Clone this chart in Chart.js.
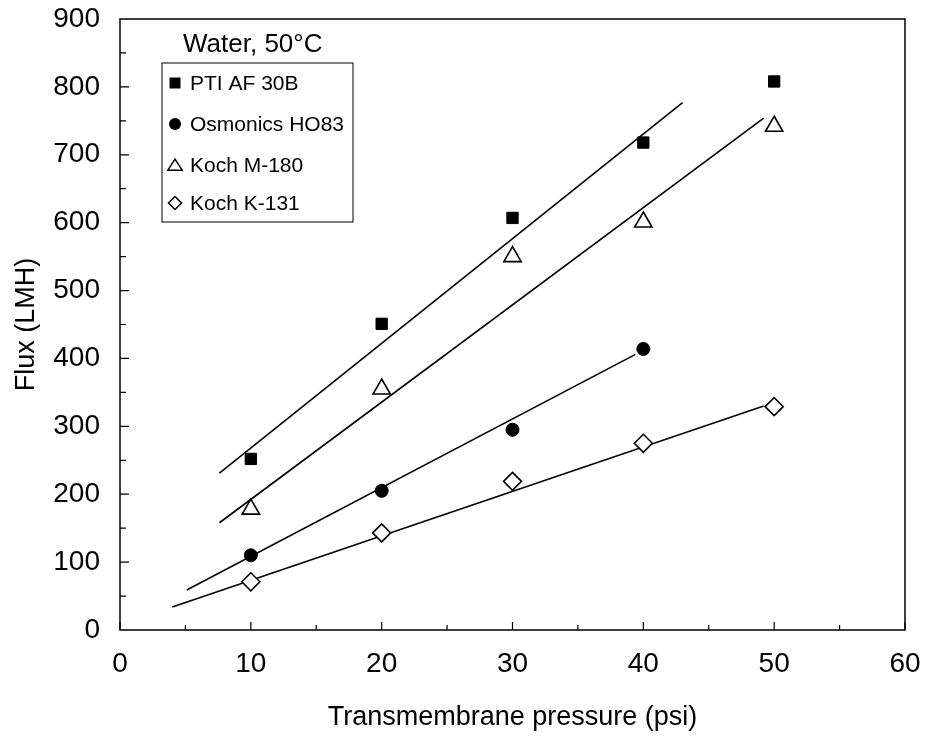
<!DOCTYPE html>
<html>
<head>
<meta charset="utf-8">
<script src="https://cdn.jsdelivr.net/npm/chart.js@4.4.1/dist/chart.umd.min.js"></script>
<style>
  html, body { margin: 0; padding: 0; background: #fff; }
  #wrap { width: 930px; height: 744px; position: relative; }
</style>
</head>
<body>
<div id="wrap"><canvas id="c" width="930" height="744"></canvas></div>
<script>
// ---- data ----
const pressure = [10, 20, 30, 40, 50];
const ptiFlux  = [252, 451, 607, 718, 808];
const osmFlux  = [110, 205, 295, 414];
const m180Flux = [178, 355, 550, 601, 742];
const k131Flux = [71, 143, 219, 275, 329];

// fitted trend lines (endpoints)
const ptiFitX  = [7.6, 43.0];  const ptiFitY  = [231, 777];
const m180FitX = [7.6, 49.2];  const m180FitY = [158, 754];
const osmFitX  = [5.1, 39.4];  const osmFitY  = [59, 406];
const k131FitX = [4.0, 49.2];  const k131FitY = [34, 330];

const seriesNames = ['PTI AF 30B', 'Osmonics HO83', 'Koch M-180', 'Koch K-131'];
const legendTitle = 'Water, 50\u00B0C';
const xTitle = 'Transmembrane pressure (psi)';
const yTitle = 'Flux (LMH)';
const xMajorTicks = [0, 10, 20, 30, 40, 50, 60];
const xMinorTicks = [5, 15, 25, 35, 45, 55];
const yMajorTicks = [100, 200, 300, 400, 500, 600, 700, 800];
const yMinorTicks = [50, 150, 250, 350, 450, 550, 650, 750, 850];

const FONT = '"Liberation Sans", Arial, sans-serif';
const pts = (xs, ys) => ys.map((v, i) => ({ x: xs[i], y: v }));

function fitLine(xs, ys) {
  return { type: 'line', data: pts(xs, ys), borderColor: '#000', borderWidth: 1.6,
           pointRadius: 0, showLine: true, fill: false, order: 2 };
}
function markers(ys, style, radius, filled) {
  return { type: 'scatter', data: pts(pressure, ys), pointStyle: style, pointRadius: radius,
           pointHoverRadius: radius,
           backgroundColor: filled ? '#000' : '#fff', borderColor: '#000',
           borderWidth: filled ? 1 : 1.6, order: 1 };
}

function drawSymbol(ctx, style, x, y, s) {
  ctx.beginPath();
  if (style === 'rect') {
    ctx.rect(x - s / 2, y - s / 2, s, s); ctx.fillStyle = '#000'; ctx.fill();
  } else if (style === 'circle') {
    ctx.arc(x, y, s / 2, 0, Math.PI * 2); ctx.fillStyle = '#000'; ctx.fill();
  } else if (style === 'triangle') {
    ctx.moveTo(x, y - s * 0.45); ctx.lineTo(x + s * 0.55, y + s * 0.4); ctx.lineTo(x - s * 0.55, y + s * 0.4);
    ctx.closePath(); ctx.fillStyle = '#fff'; ctx.fill(); ctx.lineWidth = 1.5; ctx.stroke();
  } else if (style === 'rectRot') {
    ctx.moveTo(x, y - s / 2); ctx.lineTo(x + s / 2, y); ctx.lineTo(x, y + s / 2); ctx.lineTo(x - s / 2, y);
    ctx.closePath(); ctx.fillStyle = '#fff'; ctx.fill(); ctx.lineWidth = 1.5; ctx.stroke();
  }
}

const framePlugin = {
  id: 'frame',
  afterDraw(chart) {
    const { ctx, chartArea: a, scales: { x, y } } = chart;
    ctx.save();
    ctx.strokeStyle = '#000';
    ctx.lineWidth = 1.5;
    ctx.strokeRect(a.left, a.top, a.right - a.left, a.bottom - a.top);
    ctx.lineWidth = 1.2;
    ctx.beginPath();
    xMajorTicks.forEach(v => { const px = x.getPixelForValue(v); ctx.moveTo(px, a.bottom); ctx.lineTo(px, a.bottom - 8); });
    xMinorTicks.forEach(v => { const px = x.getPixelForValue(v); ctx.moveTo(px, a.bottom); ctx.lineTo(px, a.bottom - 5); });
    yMajorTicks.forEach(v => { const py = y.getPixelForValue(v); ctx.moveTo(a.left, py); ctx.lineTo(a.left + 9, py); });
    yMinorTicks.forEach(v => { const py = y.getPixelForValue(v); ctx.moveTo(a.left, py); ctx.lineTo(a.left + 6, py); });
    ctx.stroke();

    // legend
    const bx = 162, by = 63, bw = 191, bh = 159;
    ctx.lineWidth = 1;
    ctx.strokeRect(bx, by, bw, bh);
    ctx.fillStyle = '#000';
    ctx.font = '26px ' + FONT;
    ctx.textBaseline = 'middle';
    ctx.textAlign = 'left';
    ctx.fillText(legendTitle, 183, 45);
    const styles = ['rect', 'circle', 'triangle', 'rectRot'];
    const sizes = [11, 12, 13, 13];
    const ys = [83, 124, 165, 203];
    ctx.font = '21px ' + FONT;
    styles.forEach((st, i) => {
      ctx.strokeStyle = '#000';
      drawSymbol(ctx, st, 175, ys[i], sizes[i]);
      ctx.fillStyle = '#000';
      ctx.fillText(seriesNames[i], 190, ys[i] + 1);
    });
    ctx.restore();
  }
};

new Chart(document.getElementById('c'), {
  type: 'scatter',
  data: {
    datasets: [
      fitLine(ptiFitX, ptiFitY),
      fitLine(m180FitX, m180FitY),
      fitLine(osmFitX, osmFitY),
      fitLine(k131FitX, k131FitY),
      markers(ptiFlux, 'rect', 8, true),
      markers(osmFlux, 'circle', 6.5, true),
      markers(m180Flux, 'triangle', 10, false),
      markers(k131Flux, 'rectRot', 9, false)
    ]
  },
  options: {
    responsive: false,
    animation: false,
    devicePixelRatio: 1,
    layout: { padding: { left: 0, top: 19, right: 25, bottom: 0 } },
    plugins: { legend: { display: false }, tooltip: { enabled: false } },
    scales: {
      x: {
        type: 'linear', min: 0, max: 60,
        grid: { display: false },
        border: { display: false },
        ticks: { stepSize: 10, color: '#000', font: { family: FONT, size: 28 }, padding: 9, maxRotation: 0 },
        title: { display: true, text: xTitle, color: '#000', font: { family: FONT, size: 27 }, padding: { top: 0, bottom: 10 } },
        afterFit(s) { s.height = 114; s.paddingLeft = 0; s.paddingRight = 0; }
      },
      y: {
        type: 'linear', min: 0, max: 900,
        grid: { display: false },
        border: { display: false },
        ticks: { stepSize: 100, color: '#000', font: { family: FONT, size: 28 }, padding: 12 },
        title: { display: true, text: yTitle, color: '#000', font: { family: FONT, size: 27 }, padding: { top: 10, bottom: 0 } },
        afterFit(s) { s.width = 120; s.paddingTop = 0; s.paddingBottom = 0; }
      }
    }
  },
  plugins: [framePlugin]
});
</script>
</body>
</html>
